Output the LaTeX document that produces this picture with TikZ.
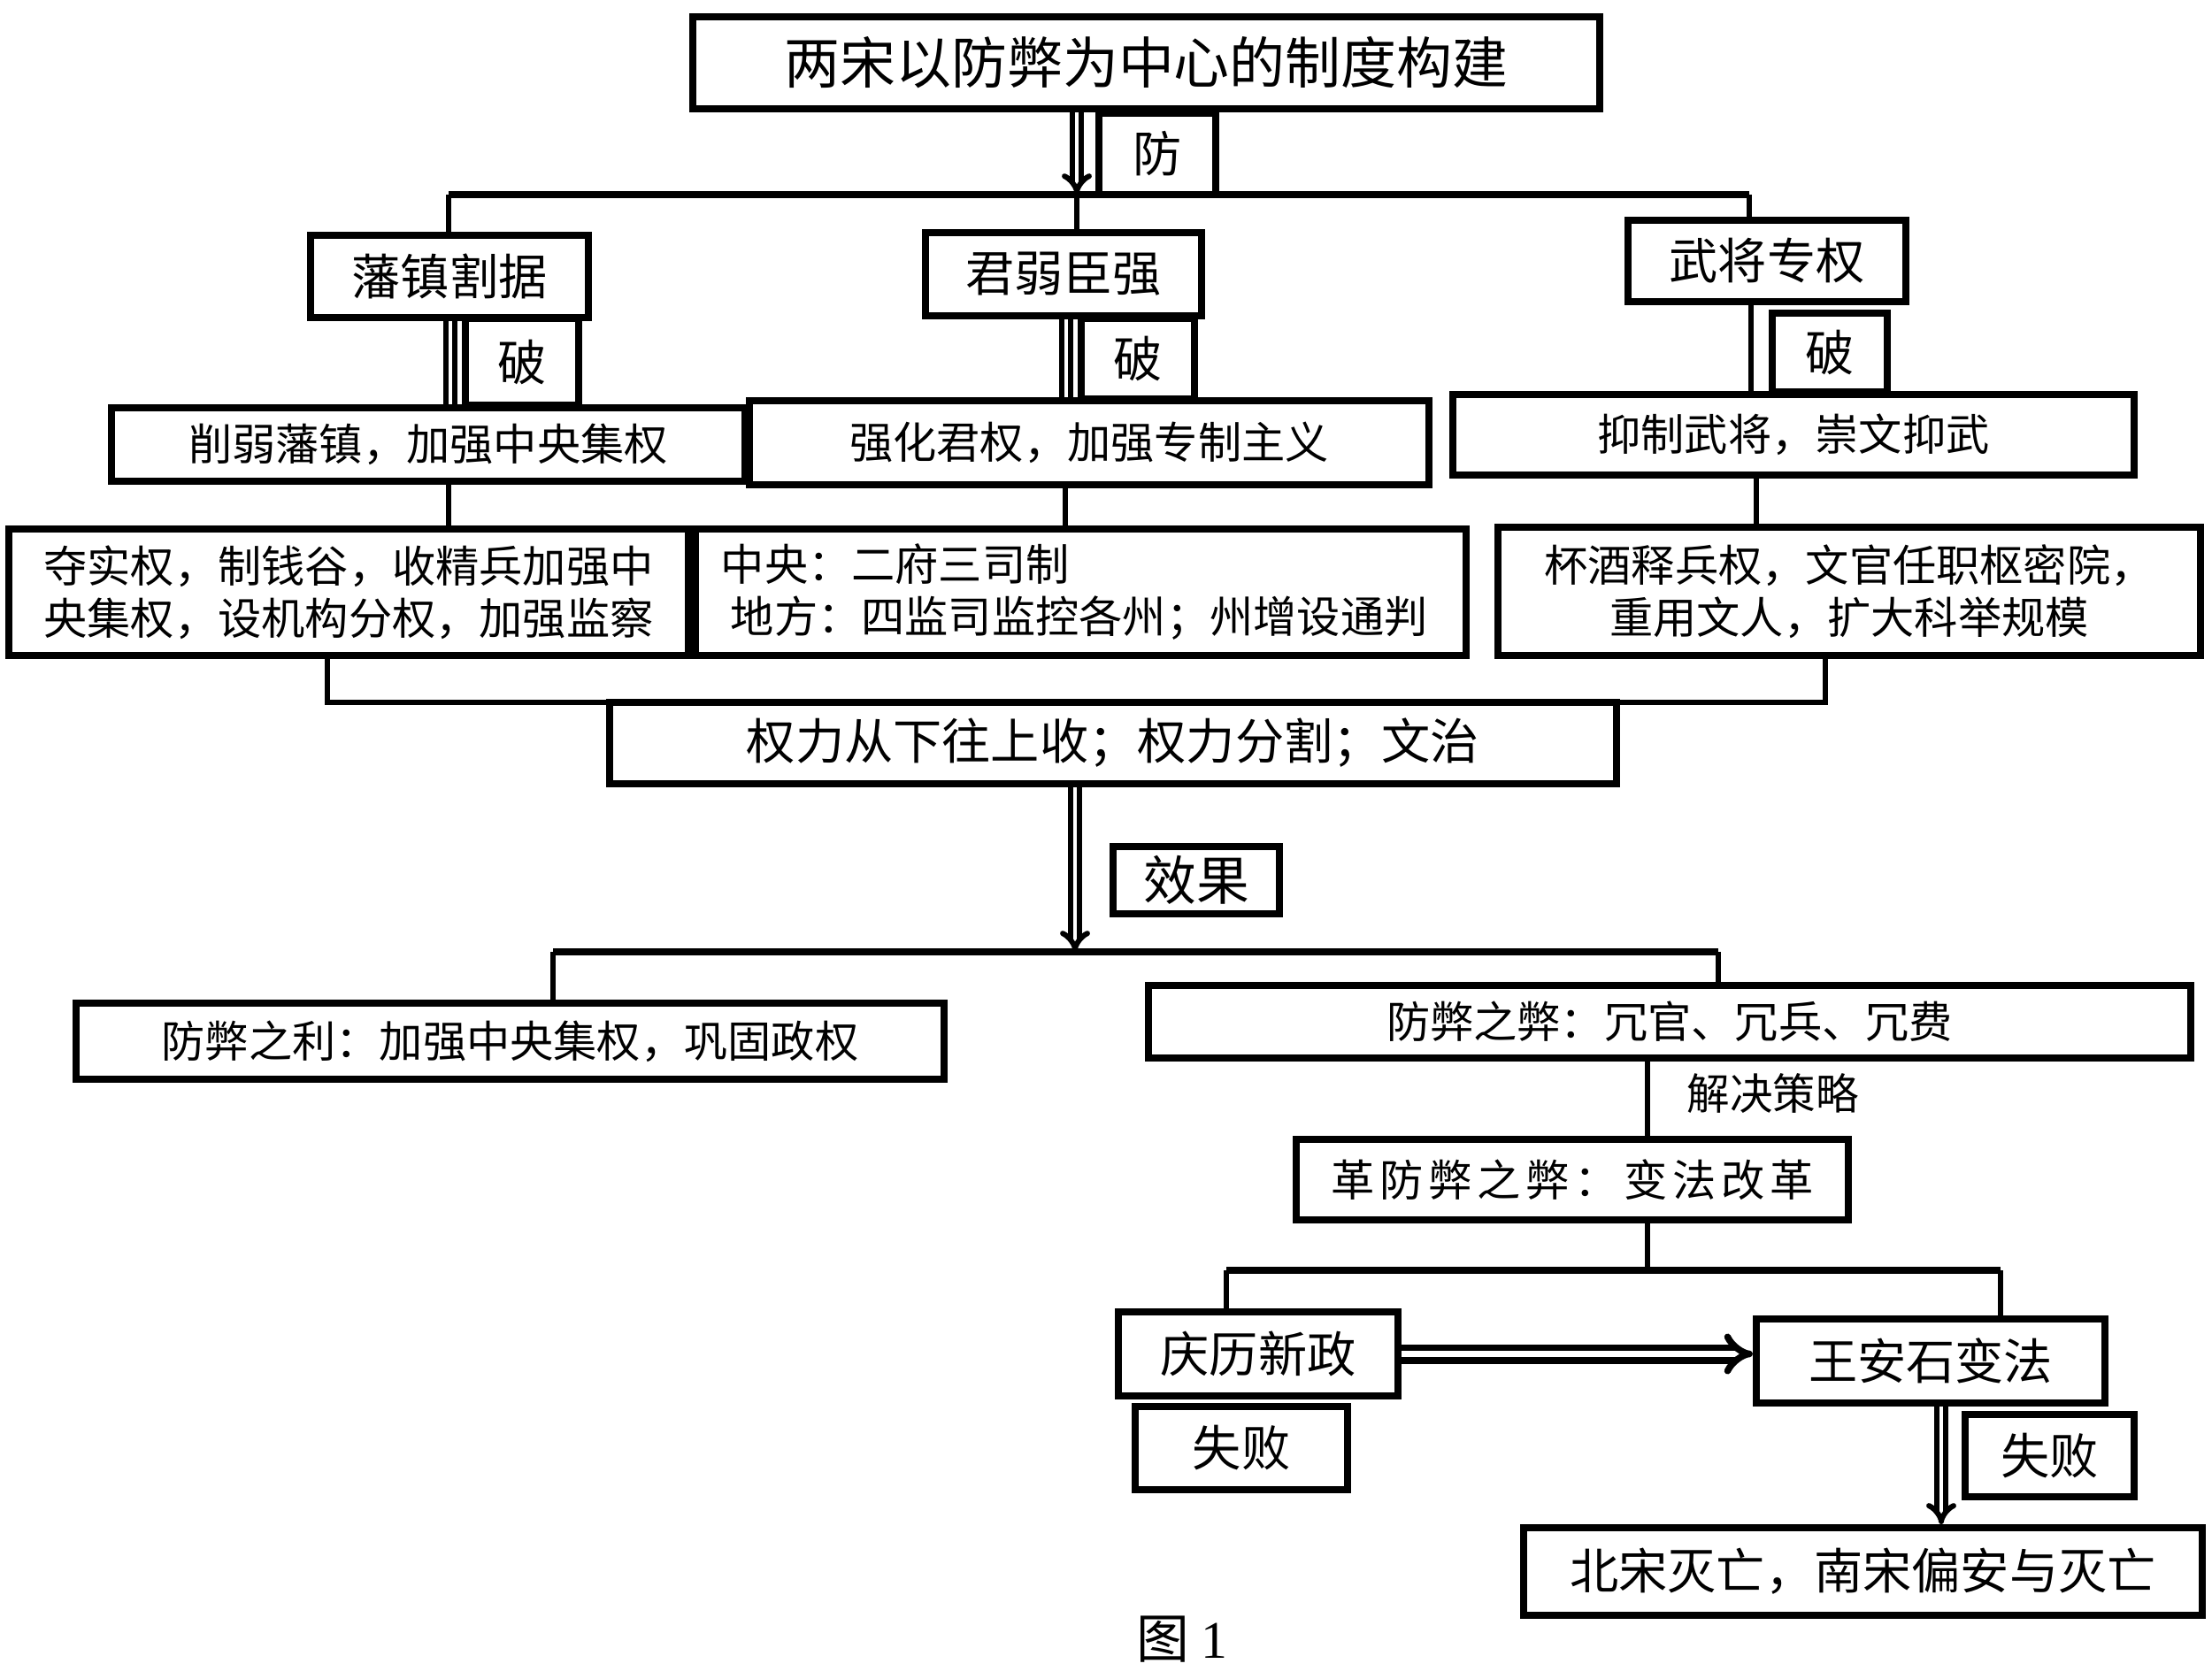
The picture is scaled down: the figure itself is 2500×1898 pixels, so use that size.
\documentclass[tikz,border=0pt]{standalone}
\usepackage{fontspec}
\setmainfont{Noto Sans CJK SC}
\newfontfamily\serifnum{Liberation Serif}
\usetikzlibrary{arrows.meta}
\begin{document}
\begin{tikzpicture}[x=0.01cm,y=-0.01cm,
  box/.style={draw, line width=0.08cm, fill=white, inner sep=0pt, align=center},
  ln/.style={line width=0.055cm},
  bar/.style={line width=0.075cm},
  dbl/.style={double, double distance=0.045cm, line width=0.06cm},
  darr/.style={dbl, -{Implies}},
  fT/.style={font=\fontsize{17.9}{21}\selectfont},
  fL/.style={font=\fontsize{15.7}{19}\selectfont},
  fM/.style={font=\fontsize{14}{16.8}\selectfont},
  fS/.style={font=\fontsize{13.8}{16}\selectfont}]
\useasboundingbox (0,0) rectangle (2500,1898);

% top level
\node[box, fT, minimum width=10.25cm, minimum height=1.04cm] (title) at (1295.5,71) {两宋以防弊为中心的制度构建};
\node[box, fL, minimum width=1.32cm, minimum height=0.92cm] (fang) at (1308,174) {防};

\node[box, fL, minimum width=3.14cm, minimum height=0.93cm] (fz) at (508,312.5) {藩镇割据};
\node[box, fL, minimum width=3.12cm, minimum height=0.94cm] (jr) at (1202,310) {君弱臣强};
\node[box, fL, minimum width=3.14cm, minimum height=0.92cm] (wj) at (1997,295) {武将专权};

\node[box, fL, minimum width=1.28cm, minimum height=0.98cm] (po1) at (590,409) {破};
\node[box, fL, minimum width=1.28cm, minimum height=0.91cm] (po2) at (1286,405.5) {破};
\node[box, fL, minimum width=1.30cm, minimum height=0.89cm] (po3) at (2068,398.5) {破};

\node[box, fM, minimum width=7.16cm, minimum height=0.83cm] (xr) at (484,502.5) {削弱藩镇，加强中央集权};
\node[box, fM, minimum width=7.68cm, minimum height=0.95cm] (qh) at (1231,500.5) {强化君权，加强专制主义};
\node[box, fM, minimum width=7.70cm, minimum height=0.91cm] (yz) at (2027,491.5) {抑制武将，崇文抑武};

\node[box, fM, minimum width=7.68cm, minimum height=1.43cm] (r1) at (394,669.5) {夺实权，制钱谷，收精兵加强中\\央集权，设机构分权，加强监察};
\node[box, fM, minimum width=8.71cm, minimum height=1.43cm, text width=8.13cm, align=left] (r2) at (1221.5,669.5) {中央：二府三司制\\\hspace*{0.11cm}地方：四监司监控各州；州增设通判};
\node[box, fM, minimum width=7.94cm, minimum height=1.45cm] (r3) at (2090,668.5) {杯酒释兵权，文官任职枢密院，\\重用文人，扩大科举规模};

\node[box, fL, minimum width=11.38cm, minimum height=0.92cm] (sum) at (1258,840) {权力从下往上收；权力分割；文治};
\node[box, font=\fontsize{17}{20}\selectfont, minimum width=1.88cm, minimum height=0.76cm] (xg) at (1352,995) {效果};

\node[box, fM, minimum width=9.81cm, minimum height=0.86cm] (lb) at (576.5,1177) {防弊之利：加强中央集权，巩固政权};
\node[box, fM, minimum width=11.78cm, minimum height=0.82cm] (bb) at (1887,1155) {防弊之弊：冗官、冗兵、冗费};
\node[fS, anchor=west, inner sep=0pt] (jj) at (1906,1236) {解决策略};
\node[box, font=\fontsize{14}{17}\selectfont\addfontfeatures{LetterSpace=12}, minimum width=6.24cm, minimum height=0.91cm] (gf) at (1777,1333.5) {革防弊之弊：变法改革};

\node[box, fL, minimum width=3.16cm, minimum height=0.95cm] (qlx) at (1422,1530.5) {庆历新政};
\node[box, fL, minimum width=3.94cm, minimum height=0.95cm] (wa) at (2182,1538.5) {王安石变法};
\node[box, fL, minimum width=2.40cm, minimum height=0.94cm] (sb1) at (1403,1637) {失败};
\node[box, fL, minimum width=1.91cm, minimum height=0.93cm] (sb2) at (2316.5,1645.5) {失败};
\node[box, fL, minimum width=7.67cm, minimum height=0.99cm] (nb) at (2105.5,1776.5) {北宋灭亡，南宋偏安与灭亡};

\node[font=\fontsize{17}{20}\selectfont, inner sep=0pt] (cap) at (1336,1853) {图 {\serifnum 1}};

% connectors, top
\coordinate (ta) at (1217,220);
\coordinate (hl) at (507,220);
\coordinate (hr) at (1977,220);
\draw[darr] (title.south -| ta) -- (ta);
\draw[bar] (hl) -- (hr);
\draw[ln] (hl) -- (hl |- fz.north);
\draw[ln] (hr) -- (hr |- wj.north);
\draw[ln] (ta) -- (ta |- jr.north);

% break connectors
\draw[dbl] ([xshift=-0.13cm]po1.west |- fz.south) -- ([xshift=-0.13cm]po1.west |- xr.north);
\draw[dbl] ([xshift=-0.13cm]po2.west |- jr.south) -- ([xshift=-0.13cm]po2.west |- qh.north);
\draw[ln] ([xshift=-0.2cm]po3.west |- wj.south) -- ([xshift=-0.2cm]po3.west |- yz.north);

% second to third row
\coordinate (c1) at (507,0);
\coordinate (c2) at (1204,0);
\coordinate (c3) at (1985,0);
\draw[ln] (c1 |- xr.south) -- (c1 |- r1.north);
\draw[ln] (c2 |- qh.south) -- (c2 |- r2.north);
\draw[ln] (c3 |- yz.south) -- (c3 |- r3.north);

% bracket to summary
\coordinate (bl) at (370,794);
\coordinate (br) at (2063,794);
\draw[ln] (bl |- r1.south) -- (bl) -- (br) -- (br |- r3.south);

% effect arrow
\coordinate (ea) at (1215,1076);
\draw[darr] (sum.south -| ea) -- (ea);
\coordinate (el) at (625,1076);
\coordinate (er) at (1942,1076);
\draw[bar] (el) -- (er);
\draw[ln] (el) -- (el |- lb.north);
\draw[ln] (er) -- (er |- bb.north);

% strategy
\coordinate (gx) at (1862,0);
\draw[ln] (gx |- bb.south) -- (gx |- gf.north);
\coordinate (gl) at (1386,1436);
\coordinate (gr) at (2261,1436);
\draw[ln] (gx |- gf.south) -- (gx |- gl);
\draw[bar] (gl) -- (gr);
\draw[ln] (gl) -- (gl |- qlx.north);
\draw[ln] (gr) -- (gr |- wa.north);

\draw[darr, line width=0.075cm, double distance=0.07cm] (qlx.east) -- (qlx.east -| wa.west);
\coordinate (wx) at (2194,0);
\draw[darr] (wx |- wa.south) -- (wx |- nb.north);
\end{tikzpicture}
\end{document}
